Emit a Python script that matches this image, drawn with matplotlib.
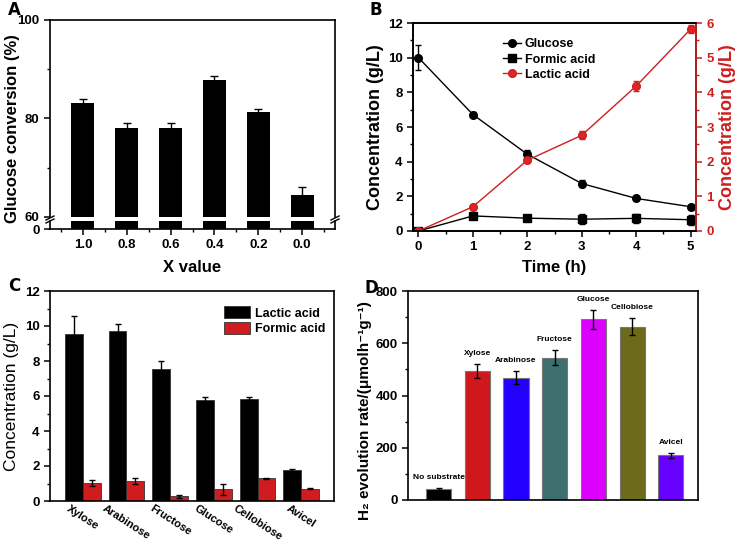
import numpy as np
import matplotlib
matplotlib.use('Agg')
import matplotlib.pyplot as plt
from matplotlib.ticker import MultipleLocator

plt.rcParams['font.family'] = ['Liberation Sans', 'DejaVu Sans']
plt.rcParams['font.weight'] = 'bold'
plt.rcParams['axes.labelweight'] = 'bold'
plt.rcParams['axes.linewidth'] = 1.2
plt.rcParams['xtick.direction'] = 'out'
plt.rcParams['ytick.direction'] = 'out'
plt.rcParams['xtick.major.width'] = 1.1
plt.rcParams['ytick.major.width'] = 1.1
plt.rcParams['xtick.minor.width'] = 1.0
plt.rcParams['ytick.minor.width'] = 1.0
plt.rcParams['xtick.major.size'] = 4
plt.rcParams['ytick.major.size'] = 4
plt.rcParams['xtick.minor.size'] = 2.5
plt.rcParams['ytick.minor.size'] = 2.5

# ---- data ----
# A: glucose conversion vs X value
x_vals = ['1.0', '0.8', '0.6', '0.4', '0.2', '0.0']
conv = [83.2, 78.1, 78.0, 87.8, 81.4, 64.5]
conv_err = [0.7, 0.9, 1.1, 0.9, 0.6, 1.6]

# B: time course
time_h = [0, 1, 2, 3, 4, 5]
glucose = [10.0, 6.72, 4.43, 2.74, 1.88, 1.40]
glucose_err = [0.73, 0.12, 0.25, 0.2, 0.12, 0.1]
formic = [0.0, 0.87, 0.74, 0.68, 0.73, 0.65]
formic_err = [0.0, 0.1, 0.08, 0.3, 0.25, 0.3]
lactic = [0.0, 0.70, 2.04, 2.76, 4.18, 5.82]
lactic_err = [0.02, 0.05, 0.06, 0.12, 0.15, 0.12]

# C: products from different substrates
substrates = ['Xylose', 'Arabinose', 'Fructose', 'Glucose', 'Cellobiose', 'Avicel']
lac_c = [9.52, 9.70, 7.56, 5.80, 5.85, 1.75]
lac_c_err = [1.05, 0.42, 0.42, 0.15, 0.07, 0.1]
for_c = [1.05, 1.17, 0.27, 0.67, 1.30, 0.71]
for_c_err = [0.17, 0.17, 0.1, 0.33, 0.03, 0.03]

# D: H2 evolution
h2_labels = ['No substrate', 'Xylose', 'Arabinose', 'Fructose', 'Glucose', 'Cellobiose', 'Avicel']
h2_rate = [42, 494, 468, 545, 691, 664, 171]
h2_err = [3, 26, 25, 29, 35, 34, 10]
h2_colors = ['#000000', '#d0181c', '#2400ff', '#3e6e6e', '#dd00ff', '#6b6b1a', '#6800ff']

W, H = 736, 544
fig = plt.figure(figsize=(W / 100, H / 100), dpi=100)


def box(l, t, r, b):
    return [l / W, 1 - b / H, (r - l) / W, (b - t) / H]


red = '#cc1f1f'

# ---------- A ----------
xa = np.arange(len(x_vals))
axA = fig.add_axes(box(50, 20, 335, 217))
axA0 = fig.add_axes(box(50, 221, 335, 229))
for ax in (axA, axA0):
    ax.bar(xa, conv, width=0.52, color='k', yerr=conv_err,
           error_kw=dict(ecolor='k', capsize=3, elinewidth=1, capthick=1))
    ax.set_xlim(-0.75, 5.75)
axA.set_ylim(60, 100)
axA.set_yticks([60, 80, 100])
axA.yaxis.set_minor_locator(MultipleLocator(10))
axA.spines['bottom'].set_visible(False)
axA.tick_params(axis='x', which='both', bottom=False, labelbottom=False)
axA.tick_params(labelsize=9.5)
axA0.set_ylim(0, 2)
axA0.set_yticks([0])
axA0.spines['top'].set_visible(False)
axA0.set_xticks(xa)
axA0.set_xticklabels(x_vals)
axA0.xaxis.set_minor_locator(MultipleLocator(0.5))
axA0.tick_params(labelsize=9.5)
axA0.set_xlabel('X value', fontsize=12, labelpad=6)
axA.set_ylabel('Glucose conversion (%)', fontsize=12, labelpad=4)
axA.yaxis.set_label_coords(-0.105, 0.45)
# break marks
for xp in (50, 335):
    for dy in (0, 3):
        fig.add_artist(plt.Line2D([(xp - 4) / W, (xp + 4) / W],
                                  [1 - (220 + dy) / H, 1 - (216 + dy) / H],
                                  color='k', lw=1))

# ---------- B ----------
axB = fig.add_axes(box(413, 23, 696, 231))
axB2 = axB.twinx()
eb = dict(capsize=2.5, elinewidth=1, capthick=1, lw=1, ms=5.5)
cg = axB.errorbar(time_h, glucose, yerr=glucose_err, color='k', marker='o', **eb)
cf = axB.errorbar(time_h, formic, yerr=formic_err, color='k', marker='s', **eb)
cl = axB2.errorbar(time_h, lactic, yerr=lactic_err, color=red, marker='o', mfc='#e02525', **eb)
axB.set_xlim(-0.1, 5.1)
axB.set_ylim(0, 12)
axB2.set_ylim(0, 6)
axB.xaxis.set_minor_locator(MultipleLocator(0.5))
axB.yaxis.set_minor_locator(MultipleLocator(1))
axB2.yaxis.set_minor_locator(MultipleLocator(0.5))
axB.tick_params(labelsize=9.5)
axB2.tick_params(axis='y', which='both', colors=red, labelsize=9.5)
axB2.spines['right'].set_color(red)
axB.set_xlabel('Time (h)', fontsize=12, labelpad=5)
axB.set_ylabel('Concentration (g/L)', fontsize=13, labelpad=3)
axB2.set_ylabel('Concentration (g/L)', fontsize=13, color=red, labelpad=4)
axB.legend([cg[0], cf[0], cl[0]], ['Glucose', 'Formic acid', 'Lactic acid'],
           frameon=False, fontsize=9, handlelength=1.4,
           handletextpad=0.3, labelspacing=0.25,
           loc='upper left', bbox_to_anchor=(0.28, 0.98))

# ---------- C ----------
axC = fig.add_axes(box(50, 291, 334, 501))
xc = np.arange(len(substrates))
bw = 0.41
ekw = dict(ecolor='k', capsize=2.5, elinewidth=1, capthick=1)
axC.bar(xc - bw / 2, lac_c, bw, color='k', edgecolor='#333333', lw=0.6,
        yerr=lac_c_err, error_kw=ekw, label='Lactic acid')
axC.bar(xc + bw / 2, for_c, bw, color='#d01c1f', edgecolor='#333333', lw=0.6,
        yerr=for_c_err, error_kw=ekw, label='Formic acid')
axC.set_xlim(-0.75, 5.75)
axC.set_ylim(0, 12)
axC.set_yticks(np.arange(0, 13, 2))
axC.yaxis.set_minor_locator(MultipleLocator(1))
axC.set_xticks(xc)
axC.set_xticklabels(substrates, rotation=-33, ha='center', fontsize=8)
axC.tick_params(axis='x', length=0, pad=2)
axC.tick_params(axis='y', labelsize=9.5)
axC.set_ylabel('Concentration (g/L)', fontsize=12.5, fontweight='normal', labelpad=4)
axC.legend(frameon=False, fontsize=9, loc='upper right', handlelength=2.1,
           handleheight=1.1, handletextpad=0.4, labelspacing=0.2,
           bbox_to_anchor=(1.01, 0.98))

# ---------- D ----------
axD = fig.add_axes(box(408, 291, 698, 500))
xd = np.arange(len(h2_labels))
axD.bar(xd, h2_rate, 0.65, color=h2_colors, edgecolor='#777777', lw=0.8,
        yerr=h2_err, error_kw=dict(ecolor='k', capsize=2.5, elinewidth=1, capthick=1))
for xi, v, e, lab in zip(xd, h2_rate, h2_err, h2_labels):
    axD.annotate(lab, (xi, v + e), xytext=(0, 5), textcoords='offset points',
                 ha='center', va='bottom', fontsize=6)
axD.set_xlim(-0.79, 6.7)
axD.set_ylim(0, 800)
axD.set_yticks(np.arange(0, 801, 200))
axD.yaxis.set_minor_locator(MultipleLocator(100))
axD.set_xticks([])
axD.tick_params(axis='y', labelsize=9.5)
axD.set_ylabel('H₂ evolution rate/(μmolh⁻¹g⁻¹)', fontsize=11, labelpad=4)
axD.yaxis.set_label_coords(-0.125, 0.43)

# panel letters
for lab, x, y in [('A', 8, 15), ('B', 370, 15), ('C', 8, 291), ('D', 364, 293)]:
    fig.text(x / W, 1 - y / H, lab, fontsize=12, fontweight='bold', family='DejaVu Sans')

fig.savefig('out.png', dpi=100)
